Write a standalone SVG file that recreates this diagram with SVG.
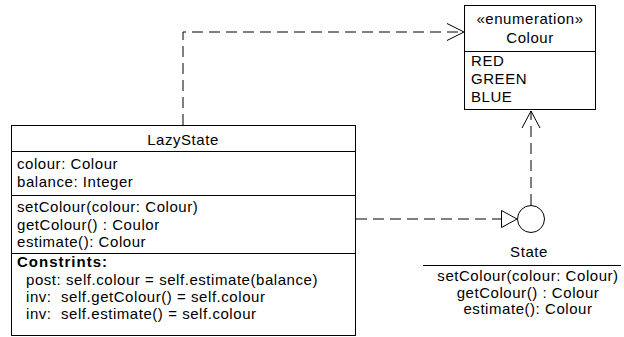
<svg xmlns="http://www.w3.org/2000/svg" width="624" height="337" viewBox="0 0 624 337">
  <style>
    text { font-family: "Liberation Sans", Arial, sans-serif; font-size: 15px; letter-spacing: 0.55px; fill: #000; white-space: pre; }
    .c { text-anchor: middle; }
    .b { font-weight: bold; letter-spacing: 1px; }
    .box { fill: #fff; stroke: #000; stroke-width: 1; }
    .ln { stroke: #000; stroke-width: 1; fill: none; }
    .dash { stroke: #000; stroke-width: 1; fill: none; stroke-dasharray: 11 6; }
    .head { stroke: #000; stroke-width: 1; fill: none; }
  </style>

  <!-- connectors -->
  <g id="connectors">
    <!-- LazyState uses Colour -->
    <path class="dash" d="M183 125 V32 H463"/>
    <path class="head" d="M447 23.5 L464 32 L447 40.5"/>
    <!-- State uses Colour -->
    <path class="dash" d="M531 205 V111"/>
    <path class="head" d="M522 128 L531 111 L540 128"/>
    <!-- LazyState realizes State -->
    <path class="dash" d="M356 219 H501"/>
    <path class="head" d="M501.5 210.5 L517 219 L501.5 227.5 Z"/>
  </g>

  <!-- enumeration Colour -->
  <g id="colour">
    <rect class="box" x="464.5" y="5.5" width="131" height="104"/>
    <line class="ln" x1="464.5" y1="51.5" x2="595.5" y2="51.5"/>
    <text class="c" x="530" y="24">«enumeration»</text>
    <text class="c" x="530" y="43">Colour</text>
    <text x="471" y="66">RED</text>
    <text x="471" y="84">GREEN</text>
    <text x="471" y="102">BLUE</text>
  </g>

  <!-- class LazyState -->
  <g id="lazystate">
    <rect class="box" x="11.5" y="125.5" width="344" height="210"/>
    <line class="ln" x1="11.5" y1="151.5" x2="355.5" y2="151.5"/>
    <line class="ln" x1="11.5" y1="195.5" x2="355.5" y2="195.5"/>
    <line class="ln" x1="11.5" y1="253.5" x2="355.5" y2="253.5"/>
    <text class="c" x="183" y="145">LazyState</text>
    <text x="17" y="169">colour: Colour</text>
    <text x="17" y="187">balance: Integer</text>
    <text x="17" y="212">setColour(colour: Colour)</text>
    <text x="17" y="230">getColour() : Coulor</text>
    <text x="17" y="247">estimate(): Colour</text>
    <text class="b" x="17" y="267">Constrints:</text>
    <text x="26" y="285">post: self.colour = self.estimate(balance)</text>
    <text x="26" y="302">inv:  self.getColour() = self.colour</text>
    <text x="26" y="319">inv:  self.estimate() = self.colour</text>
  </g>

  <!-- interface State (lollipop) -->
  <g id="state">
    <circle class="ln" cx="531" cy="219" r="13.5"/>
    <text class="c" x="529" y="257">State</text>
    <line class="ln" x1="423" y1="265.5" x2="621" y2="265.5"/>
    <text class="c" x="528" y="281">setColour(colour: Colour)</text>
    <text class="c" x="528" y="297.5">getColour() : Colour</text>
    <text class="c" x="528" y="314">estimate(): Colour</text>
  </g>
</svg>
